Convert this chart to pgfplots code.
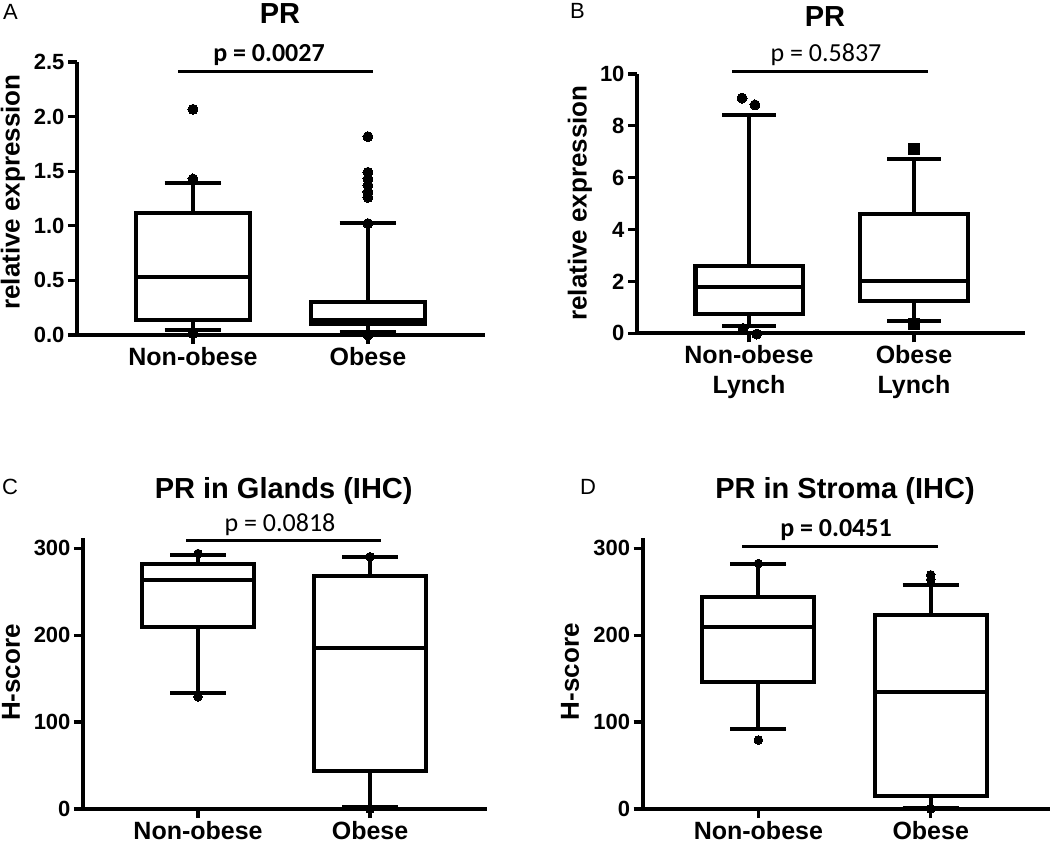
\documentclass[border=0pt]{standalone}
\usepackage{fontspec}
\setmainfont{Liberation Sans}
\newfontfamily\pfont{Carlito}
\usepackage{pgfplots}
\pgfplotsset{compat=1.18}
\usepgfplotslibrary{statistics}

\pgfplotsset{
  panel/.style={
    scale only axis, anchor=south west, clip=false,
    axis lines=left,
    axis line style={-, line width=3.6pt, black},
    every tick/.style={black, line width=3.2pt},
    major tick length=9pt, tick align=outside,
    xtick={1,2},
    /pgf/number format/assume math mode=true,
    yticklabel style={font=\fontsize{22}{22}\selectfont\bfseries},
    xticklabel style={font=\fontsize{25}{30}\selectfont\bfseries, align=center},
    boxplot/draw direction=y,
    boxplot/box extend=0.65,
    boxplot/whisker extend=0.325,
    boxplot/every box/.style={black, line width=4.2pt, fill=white, line join=miter},
    boxplot/every median/.style={black, line width=4.2pt},
    boxplot/every whisker/.style={black, line width=4.2pt},
  },
  bx/.style={black, line width=4.2pt, fill=white, line join=miter, mark=none},
  outl/.style={black, only marks, mark=*, mark size=#1, mark options={fill=black, line width=0pt}},
}

\begin{document}
\begin{tikzpicture}
\useasboundingbox (0pt,0pt) rectangle (1050pt,844pt);

% ---------------- Panel A ----------------
\begin{axis}[panel, at={(77pt,509pt)}, width=408pt, height=273pt,
  xmin=0.337, xmax=2.669, ymin=0, ymax=2.5,
  ytick={0,0.5,1,1.5,2,2.5},
  yticklabel style={/pgf/number format/fixed, /pgf/number format/fixed zerofill, /pgf/number format/precision=1},
  xticklabels={Non-obese,Obese}]
\addplot[bx, boxplot prepared={draw position=1, lower whisker=0.046, lower quartile=0.137, median=0.534, upper quartile=1.114, upper whisker=1.389}] coordinates {};
\addplot[bx, boxplot prepared={draw position=2, lower whisker=0.03, lower quartile=0.10, median=0.135, upper quartile=0.305, upper whisker=1.023}] coordinates {};
\addplot[outl=5pt] coordinates {(1,2.067) (1,1.429) (1,0.015)};
\addplot[outl=5pt] coordinates {(2,1.816) (2,1.49) (2,1.43) (2,1.37) (2,1.31) (2,1.26) (2,1.02) (2,0.0)};
\end{axis}

% ---------------- Panel B ----------------
\begin{axis}[panel, at={(637pt,510.7pt)}, width=388pt, height=259.3pt,
  xmin=0.321, xmax=2.673, ymin=0, ymax=10,
  ytick={0,2,4,6,8,10},
  xticklabels={{Non-obese\\Lynch},{Obese\\Lynch}}]
\addplot[bx, boxplot prepared={draw position=1, lower whisker=0.29, lower quartile=0.73, median=1.78, upper quartile=2.61, upper whisker=8.43}] coordinates {};
\addplot[bx, boxplot prepared={draw position=2, lower whisker=0.47, lower quartile=1.25, median=2.03, upper quartile=4.6, upper whisker=6.72}] coordinates {};
\addplot[outl=5pt] coordinates {(0.958,9.07) (1.036,8.81) (0.964,0.19) (1.047,-0.03)};
\addplot[outl=5.5pt, mark=square*] coordinates {(2,7.1) (2,0.36)};
\end{axis}

% ---------------- Panel C ----------------
\begin{axis}[panel, at={(83pt,35pt)}, width=404pt, height=270.7pt,
  xmin=0.331, xmax=2.680, ymin=0, ymax=311.5,
  ytick={0,100,200,300},
  xticklabels={Non-obese,Obese}]
\addplot[bx, boxplot prepared={draw position=1, lower whisker=133.8, lower quartile=209.8, median=263.5, upper quartile=281.6, upper whisker=292.3}] coordinates {};
\addplot[bx, boxplot prepared={draw position=2, lower whisker=2.6, lower quartile=43.7, median=184.9, upper quartile=268.5, upper whisker=290.3}] coordinates {};
\addplot[outl=4.3pt] coordinates {(1,294) (1,129) (2,290.3) (2,0)};
\end{axis}

% ---------------- Panel D ----------------
\begin{axis}[panel, at={(642.7pt,35pt)}, width=407.3pt, height=270.7pt,
  xmin=0.329, xmax=2.692, ymin=0, ymax=311.5,
  ytick={0,100,200,300},
  xticklabels={Non-obese,Obese}]
\addplot[bx, boxplot prepared={draw position=1, lower whisker=92, lower quartile=145.8, median=209.8, upper quartile=244.3, upper whisker=281.9}] coordinates {};
\addplot[bx, boxplot prepared={draw position=2, lower whisker=1.5, lower quartile=15.3, median=135, upper quartile=223.2, upper whisker=257.8}] coordinates {};
\addplot[outl=4.3pt] coordinates {(1,282.5) (1,79.4) (2,269.5) (2,264) (2,0)};
\end{axis}

% ---------------- annotations ----------------
\tikzset{ttl/.style={font=\fontsize{29}{29}\selectfont\bfseries, inner sep=0pt, anchor=base},
         plab/.style={font=\fontsize{22}{22}\selectfont, inner sep=0pt, anchor=base west},
         ylab/.style={font=\fontsize{26}{26}\selectfont\bfseries, inner sep=0pt, rotate=90, anchor=center},
         pval/.style={font=\fontsize{26}{26}\selectfont\pfont, inner sep=0pt, anchor=base}}

\node[plab] at (3pt,824pt) {A};
\node[plab] at (570pt,825.7pt) {B};
\node[plab] at (2pt,349pt) {C};
\node[plab] at (580pt,349pt) {D};

\node[ttl] at (280pt,820pt) {PR};
\node[ttl] at (825pt,817.3pt) {PR};
\node[ttl] at (283.7pt,345.7pt) {PR in Glands (IHC)};
\node[ttl] at (845pt,345.7pt) {PR in Stroma (IHC)};

\node[ylab] at (13pt,652pt) {relative expression};
\node[ylab] at (580pt,641pt) {relative expression};
\node[ylab] at (11pt,171.5pt) {H-score};
\node[ylab] at (570pt,172.3pt) {H-score};

\node[pval] at (269pt,782pt) {\bfseries p = 0.0027};
\node[pval] at (826pt,782.3pt) {p = 0.5837};
\node[pval] at (280pt,312.3pt) {p = 0.0818};
\node[pval] at (836pt,307.3pt) {\bfseries p = 0.0451};

\draw[line width=3.2pt] (178pt,772.3pt) -- (373pt,772.3pt);
\draw[line width=3.2pt] (732pt,772.3pt) -- (928pt,772.3pt);
\draw[line width=3.2pt] (186pt,303.3pt) -- (381pt,303.3pt);
\draw[line width=3.2pt] (742pt,297.3pt) -- (938pt,297.3pt);
\end{tikzpicture}
\end{document}
